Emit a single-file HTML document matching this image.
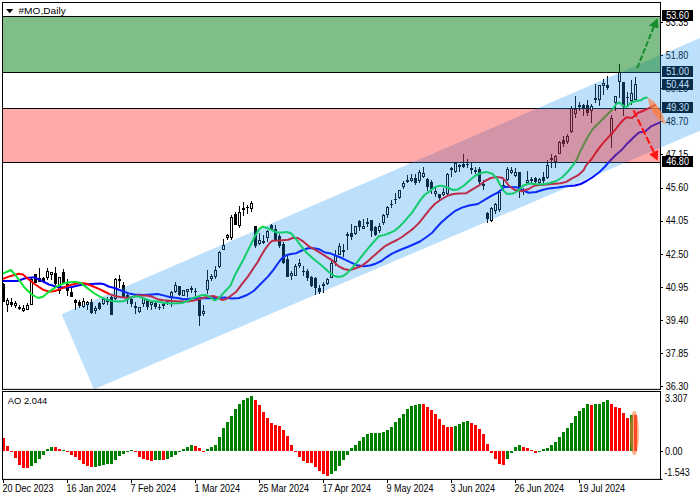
<!DOCTYPE html>
<html><head><meta charset="utf-8"><title>#MO,Daily</title>
<style>
html,body{margin:0;padding:0;background:#fff;}
body{width:700px;height:500px;overflow:hidden;}
svg{display:block;}
text{font-family:"Liberation Sans",sans-serif;fill:#000;}
</style></head><body>
<svg width="700" height="500" viewBox="0 0 700 500">
<rect x="0" y="0" width="700" height="500" fill="#fff"/>
<g shape-rendering="crispEdges">
<rect x="3" y="16" width="657" height="1" fill="#000"/>
<rect x="3" y="72" width="657" height="1" fill="#000"/>
<rect x="3" y="108" width="657" height="1" fill="#000"/>
<rect x="3" y="162" width="657" height="1" fill="#000"/>
</g>
<g shape-rendering="crispEdges">
<rect x="3" y="283" width="1" height="19" fill="#000"/><rect x="2" y="284" width="3" height="18" fill="#000"/>
<rect x="7" y="298" width="1" height="14" fill="#000"/><rect x="6" y="300" width="3" height="5" fill="#000"/><rect x="7" y="301" width="1" height="3" fill="#fff"/>
<rect x="11" y="298" width="1" height="9" fill="#000"/><rect x="10" y="302" width="3" height="3" fill="#000"/>
<rect x="15" y="301" width="1" height="7" fill="#000"/><rect x="14" y="303" width="3" height="3" fill="#000"/><rect x="15" y="304" width="1" height="1" fill="#fff"/>
<rect x="19" y="305" width="1" height="5" fill="#000"/><rect x="18" y="307" width="3" height="2" fill="#000"/>
<rect x="23" y="305" width="1" height="7" fill="#000"/><rect x="22" y="308" width="3" height="3" fill="#000"/><rect x="23" y="309" width="1" height="1" fill="#fff"/>
<rect x="27" y="303" width="1" height="7" fill="#000"/><rect x="26" y="305" width="3" height="5" fill="#000"/><rect x="27" y="306" width="1" height="3" fill="#fff"/>
<rect x="31" y="277" width="1" height="28" fill="#000"/><rect x="30" y="279" width="3" height="26" fill="#000"/><rect x="31" y="280" width="1" height="24" fill="#fff"/>
<rect x="35" y="274" width="1" height="9" fill="#000"/><rect x="34" y="274" width="3" height="9" fill="#000"/>
<rect x="39" y="268" width="1" height="14" fill="#000"/><rect x="38" y="278" width="3" height="4" fill="#000"/>
<rect x="43" y="277" width="1" height="6" fill="#000"/><rect x="42" y="278" width="3" height="4" fill="#000"/>
<rect x="47" y="268" width="1" height="12" fill="#000"/><rect x="46" y="271" width="3" height="7" fill="#000"/><rect x="47" y="272" width="1" height="5" fill="#fff"/>
<rect x="51" y="272" width="1" height="8" fill="#000"/><rect x="50" y="272" width="3" height="3" fill="#000"/><rect x="51" y="273" width="1" height="1" fill="#fff"/>
<rect x="55" y="267" width="1" height="18" fill="#000"/><rect x="54" y="273" width="3" height="11" fill="#000"/>
<rect x="59" y="277" width="1" height="17" fill="#000"/><rect x="58" y="277" width="3" height="14" fill="#000"/><rect x="59" y="278" width="1" height="12" fill="#fff"/>
<rect x="63" y="269" width="1" height="15" fill="#000"/><rect x="62" y="272" width="3" height="11" fill="#000"/>
<rect x="67" y="279" width="1" height="17" fill="#000"/><rect x="66" y="284" width="3" height="7" fill="#000"/>
<rect x="71" y="288" width="1" height="9" fill="#000"/><rect x="70" y="292" width="3" height="5" fill="#000"/>
<rect x="75" y="299" width="1" height="11" fill="#000"/><rect x="74" y="300" width="3" height="3" fill="#000"/>
<rect x="79" y="300" width="1" height="8" fill="#000"/><rect x="78" y="302" width="3" height="4" fill="#000"/>
<rect x="83" y="298" width="1" height="10" fill="#000"/><rect x="82" y="301" width="3" height="6" fill="#000"/><rect x="83" y="302" width="1" height="4" fill="#fff"/>
<rect x="87" y="301" width="1" height="9" fill="#000"/><rect x="86" y="302" width="3" height="3" fill="#000"/><rect x="87" y="303" width="1" height="1" fill="#fff"/>
<rect x="91" y="299" width="1" height="15" fill="#000"/><rect x="90" y="302" width="3" height="11" fill="#000"/>
<rect x="95" y="306" width="1" height="8" fill="#000"/><rect x="94" y="308" width="3" height="3" fill="#000"/><rect x="95" y="309" width="1" height="1" fill="#fff"/>
<rect x="99" y="302" width="1" height="8" fill="#000"/><rect x="98" y="303" width="3" height="6" fill="#000"/>
<rect x="103" y="298" width="1" height="7" fill="#000"/><rect x="102" y="299" width="3" height="5" fill="#000"/><rect x="103" y="300" width="1" height="3" fill="#fff"/>
<rect x="107" y="297" width="1" height="8" fill="#000"/><rect x="106" y="300" width="3" height="2" fill="#000"/>
<rect x="111" y="296" width="1" height="19" fill="#000"/><rect x="110" y="297" width="3" height="18" fill="#000"/>
<rect x="115" y="278" width="1" height="22" fill="#000"/><rect x="114" y="279" width="3" height="20" fill="#000"/><rect x="115" y="280" width="1" height="18" fill="#fff"/>
<rect x="119" y="275" width="1" height="13" fill="#000"/><rect x="118" y="279" width="3" height="2" fill="#000"/>
<rect x="123" y="282" width="1" height="15" fill="#000"/><rect x="122" y="285" width="3" height="12" fill="#000"/>
<rect x="127" y="293" width="1" height="11" fill="#000"/><rect x="126" y="295" width="3" height="5" fill="#000"/>
<rect x="131" y="298" width="1" height="9" fill="#000"/><rect x="130" y="299" width="3" height="5" fill="#000"/>
<rect x="135" y="302" width="1" height="12" fill="#000"/><rect x="134" y="306" width="3" height="2" fill="#000"/>
<rect x="139" y="307" width="1" height="6" fill="#000"/><rect x="138" y="307" width="3" height="5" fill="#000"/><rect x="139" y="308" width="1" height="3" fill="#fff"/>
<rect x="143" y="298" width="1" height="9" fill="#000"/><rect x="142" y="298" width="3" height="6" fill="#000"/><rect x="143" y="299" width="1" height="4" fill="#fff"/>
<rect x="147" y="300" width="1" height="10" fill="#000"/><rect x="146" y="300" width="3" height="7" fill="#000"/>
<rect x="151" y="301" width="1" height="9" fill="#000"/><rect x="150" y="302" width="3" height="3" fill="#000"/><rect x="151" y="303" width="1" height="1" fill="#fff"/>
<rect x="155" y="302" width="1" height="7" fill="#000"/><rect x="154" y="303" width="3" height="4" fill="#000"/>
<rect x="159" y="304" width="1" height="6" fill="#000"/><rect x="158" y="307" width="3" height="1" fill="#000"/>
<rect x="163" y="303" width="1" height="6" fill="#000"/><rect x="162" y="304" width="3" height="2" fill="#000"/>
<rect x="167" y="300" width="1" height="5" fill="#000"/><rect x="166" y="301" width="3" height="1" fill="#000"/>
<rect x="171" y="291" width="1" height="16" fill="#000"/><rect x="170" y="292" width="3" height="5" fill="#000"/><rect x="171" y="293" width="1" height="3" fill="#fff"/>
<rect x="175" y="282" width="1" height="11" fill="#000"/><rect x="174" y="285" width="3" height="7" fill="#000"/><rect x="175" y="286" width="1" height="5" fill="#fff"/>
<rect x="179" y="286" width="1" height="10" fill="#000"/><rect x="178" y="286" width="3" height="9" fill="#000"/>
<rect x="183" y="290" width="1" height="6" fill="#000"/><rect x="182" y="290" width="3" height="6" fill="#000"/><rect x="183" y="291" width="1" height="4" fill="#fff"/>
<rect x="187" y="289" width="1" height="8" fill="#000"/><rect x="186" y="289" width="3" height="3" fill="#000"/><rect x="187" y="290" width="1" height="1" fill="#fff"/>
<rect x="191" y="286" width="1" height="7" fill="#000"/><rect x="190" y="288" width="3" height="2" fill="#000"/>
<rect x="195" y="288" width="1" height="8" fill="#000"/><rect x="194" y="291" width="3" height="1" fill="#000"/>
<rect x="199" y="298" width="1" height="28" fill="#000"/><rect x="198" y="300" width="3" height="16" fill="#000"/>
<rect x="203" y="305" width="1" height="11" fill="#000"/><rect x="202" y="311" width="3" height="3" fill="#000"/><rect x="203" y="312" width="1" height="1" fill="#fff"/>
<rect x="207" y="270" width="1" height="24" fill="#000"/><rect x="206" y="280" width="3" height="10" fill="#000"/><rect x="207" y="281" width="1" height="8" fill="#fff"/>
<rect x="211" y="274" width="1" height="7" fill="#000"/><rect x="210" y="276" width="3" height="3" fill="#000"/><rect x="211" y="277" width="1" height="1" fill="#fff"/>
<rect x="215" y="266" width="1" height="13" fill="#000"/><rect x="214" y="270" width="3" height="7" fill="#000"/><rect x="215" y="271" width="1" height="5" fill="#fff"/>
<rect x="219" y="251" width="1" height="17" fill="#000"/><rect x="218" y="252" width="3" height="15" fill="#000"/><rect x="219" y="253" width="1" height="13" fill="#fff"/>
<rect x="223" y="239" width="1" height="11" fill="#000"/><rect x="222" y="245" width="3" height="5" fill="#000"/><rect x="223" y="246" width="1" height="3" fill="#fff"/>
<rect x="227" y="234" width="1" height="6" fill="#000"/><rect x="226" y="235" width="3" height="3" fill="#000"/><rect x="227" y="236" width="1" height="1" fill="#fff"/>
<rect x="231" y="215" width="1" height="25" fill="#000"/><rect x="230" y="217" width="3" height="21" fill="#000"/><rect x="231" y="218" width="1" height="19" fill="#fff"/>
<rect x="235" y="212" width="1" height="13" fill="#000"/><rect x="234" y="214" width="3" height="11" fill="#000"/>
<rect x="239" y="206" width="1" height="22" fill="#000"/><rect x="238" y="212" width="3" height="14" fill="#000"/><rect x="239" y="213" width="1" height="12" fill="#fff"/>
<rect x="243" y="202" width="1" height="14" fill="#000"/><rect x="242" y="208" width="3" height="2" fill="#000"/>
<rect x="247" y="205" width="1" height="9" fill="#000"/><rect x="246" y="207" width="3" height="1" fill="#000"/>
<rect x="251" y="201" width="1" height="11" fill="#000"/><rect x="250" y="203" width="3" height="6" fill="#000"/><rect x="251" y="204" width="1" height="4" fill="#fff"/>
<rect x="255" y="226" width="1" height="22" fill="#000"/><rect x="254" y="226" width="3" height="20" fill="#000"/>
<rect x="259" y="233" width="1" height="12" fill="#000"/><rect x="258" y="240" width="3" height="4" fill="#000"/><rect x="259" y="241" width="1" height="2" fill="#fff"/>
<rect x="263" y="235" width="1" height="9" fill="#000"/><rect x="262" y="241" width="3" height="2" fill="#000"/>
<rect x="267" y="230" width="1" height="12" fill="#000"/><rect x="266" y="231" width="3" height="7" fill="#000"/><rect x="267" y="232" width="1" height="5" fill="#fff"/>
<rect x="271" y="224" width="1" height="6" fill="#000"/><rect x="270" y="225" width="3" height="5" fill="#000"/>
<rect x="275" y="225" width="1" height="15" fill="#000"/><rect x="274" y="229" width="3" height="11" fill="#000"/>
<rect x="279" y="234" width="1" height="14" fill="#000"/><rect x="278" y="236" width="3" height="10" fill="#000"/>
<rect x="283" y="242" width="1" height="22" fill="#000"/><rect x="282" y="244" width="3" height="19" fill="#000"/>
<rect x="287" y="256" width="1" height="21" fill="#000"/><rect x="286" y="259" width="3" height="18" fill="#000"/>
<rect x="291" y="271" width="1" height="9" fill="#000"/><rect x="290" y="273" width="3" height="3" fill="#000"/><rect x="291" y="274" width="1" height="1" fill="#fff"/>
<rect x="295" y="264" width="1" height="12" fill="#000"/><rect x="294" y="266" width="3" height="10" fill="#000"/><rect x="295" y="267" width="1" height="8" fill="#fff"/>
<rect x="299" y="259" width="1" height="9" fill="#000"/><rect x="298" y="263" width="3" height="3" fill="#000"/><rect x="299" y="264" width="1" height="1" fill="#fff"/>
<rect x="303" y="266" width="1" height="10" fill="#000"/><rect x="302" y="271" width="3" height="1" fill="#000"/>
<rect x="307" y="269" width="1" height="12" fill="#000"/><rect x="306" y="271" width="3" height="7" fill="#000"/>
<rect x="311" y="276" width="1" height="11" fill="#000"/><rect x="310" y="277" width="3" height="9" fill="#000"/>
<rect x="315" y="277" width="1" height="18" fill="#000"/><rect x="314" y="278" width="3" height="10" fill="#000"/>
<rect x="319" y="285" width="1" height="9" fill="#000"/><rect x="318" y="288" width="3" height="4" fill="#000"/>
<rect x="323" y="282" width="1" height="11" fill="#000"/><rect x="322" y="284" width="3" height="2" fill="#000"/>
<rect x="327" y="278" width="1" height="7" fill="#000"/><rect x="326" y="279" width="3" height="5" fill="#000"/><rect x="327" y="280" width="1" height="3" fill="#fff"/>
<rect x="331" y="261" width="1" height="17" fill="#000"/><rect x="330" y="263" width="3" height="15" fill="#000"/><rect x="331" y="264" width="1" height="13" fill="#fff"/>
<rect x="335" y="250" width="1" height="16" fill="#000"/><rect x="334" y="255" width="3" height="7" fill="#000"/><rect x="335" y="256" width="1" height="5" fill="#fff"/>
<rect x="339" y="243" width="1" height="12" fill="#000"/><rect x="338" y="246" width="3" height="9" fill="#000"/><rect x="339" y="247" width="1" height="7" fill="#fff"/>
<rect x="343" y="244" width="1" height="13" fill="#000"/><rect x="342" y="250" width="3" height="2" fill="#000"/>
<rect x="347" y="232" width="1" height="18" fill="#000"/><rect x="346" y="234" width="3" height="2" fill="#000"/>
<rect x="351" y="224" width="1" height="16" fill="#000"/><rect x="350" y="233" width="3" height="4" fill="#000"/>
<rect x="355" y="226" width="1" height="9" fill="#000"/><rect x="354" y="226" width="3" height="8" fill="#000"/><rect x="355" y="227" width="1" height="6" fill="#fff"/>
<rect x="359" y="220" width="1" height="11" fill="#000"/><rect x="358" y="221" width="3" height="6" fill="#000"/>
<rect x="363" y="219" width="1" height="10" fill="#000"/><rect x="362" y="226" width="3" height="3" fill="#000"/><rect x="363" y="227" width="1" height="1" fill="#fff"/>
<rect x="367" y="218" width="1" height="9" fill="#000"/><rect x="366" y="222" width="3" height="2" fill="#000"/>
<rect x="371" y="220" width="1" height="17" fill="#000"/><rect x="370" y="220" width="3" height="11" fill="#000"/>
<rect x="375" y="226" width="1" height="10" fill="#000"/><rect x="374" y="227" width="3" height="8" fill="#000"/>
<rect x="379" y="223" width="1" height="10" fill="#000"/><rect x="378" y="226" width="3" height="5" fill="#000"/><rect x="379" y="227" width="1" height="3" fill="#fff"/>
<rect x="383" y="214" width="1" height="11" fill="#000"/><rect x="382" y="215" width="3" height="8" fill="#000"/><rect x="383" y="216" width="1" height="6" fill="#fff"/>
<rect x="387" y="206" width="1" height="12" fill="#000"/><rect x="386" y="207" width="3" height="8" fill="#000"/><rect x="387" y="208" width="1" height="6" fill="#fff"/>
<rect x="391" y="200" width="1" height="8" fill="#000"/><rect x="390" y="204" width="3" height="1" fill="#000"/>
<rect x="395" y="193" width="1" height="11" fill="#000"/><rect x="394" y="199" width="3" height="1" fill="#000"/>
<rect x="399" y="190" width="1" height="9" fill="#000"/><rect x="398" y="190" width="3" height="8" fill="#000"/><rect x="399" y="191" width="1" height="6" fill="#fff"/>
<rect x="403" y="181" width="1" height="8" fill="#000"/><rect x="402" y="183" width="3" height="4" fill="#000"/><rect x="403" y="184" width="1" height="2" fill="#fff"/>
<rect x="407" y="175" width="1" height="8" fill="#000"/><rect x="406" y="180" width="3" height="2" fill="#000"/>
<rect x="411" y="174" width="1" height="8" fill="#000"/><rect x="410" y="178" width="3" height="3" fill="#000"/><rect x="411" y="179" width="1" height="1" fill="#fff"/>
<rect x="415" y="174" width="1" height="11" fill="#000"/><rect x="414" y="178" width="3" height="5" fill="#000"/>
<rect x="419" y="170" width="1" height="13" fill="#000"/><rect x="418" y="172" width="3" height="9" fill="#000"/><rect x="419" y="173" width="1" height="7" fill="#fff"/>
<rect x="423" y="167" width="1" height="11" fill="#000"/><rect x="422" y="173" width="3" height="4" fill="#000"/><rect x="423" y="174" width="1" height="2" fill="#fff"/>
<rect x="427" y="178" width="1" height="13" fill="#000"/><rect x="426" y="179" width="3" height="8" fill="#000"/>
<rect x="431" y="180" width="1" height="14" fill="#000"/><rect x="430" y="182" width="3" height="7" fill="#000"/>
<rect x="435" y="188" width="1" height="9" fill="#000"/><rect x="434" y="191" width="3" height="3" fill="#000"/><rect x="435" y="192" width="1" height="1" fill="#fff"/>
<rect x="439" y="194" width="1" height="6" fill="#000"/><rect x="438" y="194" width="3" height="4" fill="#000"/>
<rect x="443" y="188" width="1" height="8" fill="#000"/><rect x="442" y="192" width="3" height="3" fill="#000"/><rect x="443" y="193" width="1" height="1" fill="#fff"/>
<rect x="447" y="173" width="1" height="22" fill="#000"/><rect x="446" y="174" width="3" height="20" fill="#000"/><rect x="447" y="175" width="1" height="18" fill="#fff"/>
<rect x="451" y="167" width="1" height="10" fill="#000"/><rect x="450" y="168" width="3" height="2" fill="#000"/>
<rect x="455" y="162" width="1" height="11" fill="#000"/><rect x="454" y="163" width="3" height="9" fill="#000"/><rect x="455" y="164" width="1" height="7" fill="#fff"/>
<rect x="459" y="164" width="1" height="8" fill="#000"/><rect x="458" y="165" width="3" height="2" fill="#000"/>
<rect x="463" y="154" width="1" height="14" fill="#000"/><rect x="462" y="164" width="3" height="3" fill="#000"/>
<rect x="467" y="159" width="1" height="9" fill="#000"/><rect x="466" y="164" width="3" height="1" fill="#000"/>
<rect x="471" y="163" width="1" height="11" fill="#000"/><rect x="470" y="168" width="3" height="2" fill="#000"/>
<rect x="475" y="167" width="1" height="7" fill="#000"/><rect x="474" y="170" width="3" height="2" fill="#000"/>
<rect x="479" y="167" width="1" height="17" fill="#000"/><rect x="478" y="169" width="3" height="13" fill="#000"/>
<rect x="483" y="180" width="1" height="10" fill="#000"/><rect x="482" y="184" width="3" height="2" fill="#000"/>
<rect x="487" y="212" width="1" height="11" fill="#000"/><rect x="486" y="213" width="3" height="6" fill="#000"/>
<rect x="491" y="207" width="1" height="15" fill="#000"/><rect x="490" y="208" width="3" height="13" fill="#000"/><rect x="491" y="209" width="1" height="11" fill="#fff"/>
<rect x="495" y="203" width="1" height="11" fill="#000"/><rect x="494" y="204" width="3" height="7" fill="#000"/><rect x="495" y="205" width="1" height="5" fill="#fff"/>
<rect x="499" y="190" width="1" height="22" fill="#000"/><rect x="498" y="192" width="3" height="18" fill="#000"/><rect x="499" y="193" width="1" height="16" fill="#fff"/>
<rect x="503" y="180" width="1" height="10" fill="#000"/><rect x="502" y="185" width="3" height="3" fill="#000"/><rect x="503" y="186" width="1" height="1" fill="#fff"/>
<rect x="507" y="167" width="1" height="14" fill="#000"/><rect x="506" y="169" width="3" height="11" fill="#000"/><rect x="507" y="170" width="1" height="9" fill="#fff"/>
<rect x="511" y="167" width="1" height="7" fill="#000"/><rect x="510" y="170" width="3" height="3" fill="#000"/><rect x="511" y="171" width="1" height="1" fill="#fff"/>
<rect x="515" y="168" width="1" height="9" fill="#000"/><rect x="514" y="172" width="3" height="4" fill="#000"/><rect x="515" y="173" width="1" height="2" fill="#fff"/>
<rect x="519" y="172" width="1" height="26" fill="#000"/><rect x="518" y="172" width="3" height="18" fill="#000"/>
<rect x="523" y="188" width="1" height="7" fill="#000"/><rect x="522" y="190" width="3" height="2" fill="#000"/>
<rect x="527" y="171" width="1" height="12" fill="#000"/><rect x="526" y="180" width="3" height="3" fill="#000"/><rect x="527" y="181" width="1" height="1" fill="#fff"/>
<rect x="531" y="177" width="1" height="6" fill="#000"/><rect x="530" y="179" width="3" height="2" fill="#000"/>
<rect x="535" y="177" width="1" height="7" fill="#000"/><rect x="534" y="178" width="3" height="4" fill="#000"/>
<rect x="539" y="178" width="1" height="6" fill="#000"/><rect x="538" y="179" width="3" height="4" fill="#000"/><rect x="539" y="180" width="1" height="2" fill="#fff"/>
<rect x="543" y="172" width="1" height="11" fill="#000"/><rect x="542" y="177" width="3" height="4" fill="#000"/>
<rect x="547" y="160" width="1" height="19" fill="#000"/><rect x="546" y="165" width="3" height="13" fill="#000"/><rect x="547" y="166" width="1" height="11" fill="#fff"/>
<rect x="551" y="154" width="1" height="14" fill="#000"/><rect x="550" y="158" width="3" height="2" fill="#000"/>
<rect x="555" y="155" width="1" height="13" fill="#000"/><rect x="554" y="156" width="3" height="6" fill="#000"/><rect x="555" y="157" width="1" height="4" fill="#fff"/>
<rect x="559" y="141" width="1" height="13" fill="#000"/><rect x="558" y="142" width="3" height="12" fill="#000"/><rect x="559" y="143" width="1" height="10" fill="#fff"/>
<rect x="563" y="136" width="1" height="11" fill="#000"/><rect x="562" y="140" width="3" height="4" fill="#000"/>
<rect x="567" y="134" width="1" height="10" fill="#000"/><rect x="566" y="136" width="3" height="6" fill="#000"/><rect x="567" y="137" width="1" height="4" fill="#fff"/>
<rect x="571" y="106" width="1" height="27" fill="#000"/><rect x="570" y="108" width="3" height="24" fill="#000"/><rect x="571" y="109" width="1" height="22" fill="#fff"/>
<rect x="575" y="96" width="1" height="22" fill="#000"/><rect x="574" y="109" width="3" height="5" fill="#000"/><rect x="575" y="110" width="1" height="3" fill="#fff"/>
<rect x="579" y="102" width="1" height="9" fill="#000"/><rect x="578" y="105" width="3" height="2" fill="#000"/>
<rect x="583" y="104" width="1" height="12" fill="#000"/><rect x="582" y="105" width="3" height="3" fill="#000"/>
<rect x="587" y="100" width="1" height="16" fill="#000"/><rect x="586" y="105" width="3" height="8" fill="#000"/>
<rect x="591" y="104" width="1" height="19" fill="#000"/><rect x="590" y="106" width="3" height="5" fill="#000"/><rect x="591" y="107" width="1" height="3" fill="#fff"/>
<rect x="595" y="84" width="1" height="19" fill="#000"/><rect x="594" y="98" width="3" height="2" fill="#000"/>
<rect x="599" y="85" width="1" height="21" fill="#000"/><rect x="598" y="85" width="3" height="15" fill="#000"/><rect x="599" y="86" width="1" height="13" fill="#fff"/>
<rect x="603" y="79" width="1" height="16" fill="#000"/><rect x="602" y="83" width="3" height="3" fill="#000"/><rect x="603" y="84" width="1" height="1" fill="#fff"/>
<rect x="607" y="76" width="1" height="14" fill="#000"/><rect x="606" y="85" width="3" height="3" fill="#000"/>
<rect x="611" y="115" width="1" height="33" fill="#000"/><rect x="610" y="118" width="3" height="17" fill="#000"/><rect x="611" y="119" width="1" height="15" fill="#fff"/>
<rect x="615" y="96" width="1" height="15" fill="#000"/><rect x="614" y="96" width="3" height="7" fill="#000"/><rect x="615" y="97" width="1" height="5" fill="#fff"/>
<rect x="619" y="64" width="1" height="34" fill="#000"/><rect x="618" y="72" width="3" height="10" fill="#000"/><rect x="619" y="73" width="1" height="8" fill="#fff"/>
<rect x="623" y="82" width="1" height="34" fill="#000"/><rect x="622" y="82" width="3" height="25" fill="#000"/>
<rect x="627" y="92" width="1" height="14" fill="#000"/><rect x="626" y="97" width="3" height="1" fill="#000"/>
<rect x="631" y="80" width="1" height="25" fill="#000"/><rect x="630" y="93" width="3" height="8" fill="#000"/><rect x="631" y="94" width="1" height="6" fill="#fff"/>
<rect x="635" y="77" width="1" height="23" fill="#000"/><rect x="634" y="84" width="3" height="16" fill="#000"/><rect x="635" y="85" width="1" height="14" fill="#fff"/>
</g>
<clipPath id="cm"><rect x="3" y="3" width="657" height="386"/></clipPath>
<g clip-path="url(#cm)">
<polyline points="3.0,281.0 17.3,281.0 26.0,278.0 34.6,277.3 40.3,280.2 49.0,284.5 57.6,287.0 64.8,287.4 72.0,287.0 77.8,285.5 83.6,284.5 92.0,284.0 100.0,283.6 104.3,284.3 108.6,286.5 114.4,288.0 121.6,290.8 128.8,293.4 134.6,294.4 143.2,294.9 151.9,294.4 157.6,294.0 163.4,295.4 170.6,297.3 177.8,298.0 183.6,299.2 189.3,298.7 195.0,298.2 210.4,298.2 224.8,297.5 232.0,298.5 239.2,298.0 246.4,295.3 253.6,291.0 260.8,283.8 268.0,276.6 273.8,269.4 278.9,262.0 282.5,257.7 286.8,255.0 291.0,254.0 296.3,253.2 300.6,251.0 307.9,248.2 313.6,248.2 319.4,249.3 325.0,252.5 330.9,253.6 336.7,256.0 342.4,258.3 349.6,261.9 356.8,265.2 364.0,266.2 369.8,265.5 375.6,263.7 381.3,261.0 387.0,256.8 392.0,253.6 400.0,250.0 410.0,246.0 420.0,241.5 426.5,237.0 432.2,232.7 438.0,226.0 441.8,222.0 447.5,217.0 454.7,211.2 462.0,207.6 469.0,205.5 477.8,204.0 485.0,199.7 492.2,195.4 498.0,192.5 501.5,189.5 504.3,186.9 511.5,186.9 518.7,187.6 523.0,190.5 528.8,192.7 536.0,192.0 543.2,189.8 549.0,188.4 557.6,187.6 566.3,186.2 575.0,185.5 580.7,184.0 586.5,181.0 592.2,177.5 599.5,172.0 604.6,167.0 610.3,160.5 616.0,154.8 621.9,149.7 627.6,143.2 633.4,137.5 639.0,132.4 645.0,131.4 650.7,126.7 656.5,123.8 660.0,122.3" fill="none" stroke="#0000ff" stroke-width="2" stroke-linejoin="round" stroke-linecap="round"/>
<polyline points="3.0,278.8 8.6,276.6 14.4,275.0 18.7,273.7 23.0,274.5 28.8,279.5 36.0,285.0 43.0,289.6 49.0,291.7 54.8,291.0 60.5,288.9 67.7,286.0 75.0,283.8 80.7,283.0 86.5,283.8 92.0,286.0 100.0,289.4 104.3,291.5 110.0,294.4 115.9,296.3 121.6,297.3 127.4,298.0 131.7,297.3 137.5,295.4 146.0,295.4 151.9,296.6 157.6,299.2 163.4,300.2 172.0,300.9 180.7,301.6 187.9,301.6 193.7,300.6 198.0,299.5 201.8,298.2 207.5,296.8 213.3,296.0 217.6,297.5 221.9,300.0 226.3,299.0 230.6,296.0 236.3,291.7 242.1,283.8 247.9,276.6 253.6,268.0 258.0,261.5 260.8,256.3 265.2,249.0 269.5,243.3 272.4,240.7 279.6,240.4 288.2,239.7 292.5,238.0 297.8,238.0 303.5,241.7 309.3,246.7 315.0,249.6 320.8,253.2 326.6,256.8 332.3,260.4 338.0,265.8 343.9,269.0 349.6,270.2 355.4,268.3 361.2,266.2 367.0,261.9 372.7,256.8 378.5,251.8 384.2,246.7 392.0,242.4 397.0,240.0 402.0,237.0 407.7,232.7 413.5,228.4 419.3,222.6 425.0,215.4 430.8,208.2 435.0,203.8 441.8,199.0 447.5,195.8 453.3,194.0 459.0,193.5 466.3,193.2 472.0,189.6 479.2,185.3 485.0,181.0 490.8,178.0 496.5,177.0 502.3,177.8 505.5,181.0 508.6,185.5 514.4,189.8 521.6,191.2 528.8,189.0 534.6,185.5 543.2,184.8 551.9,184.0 560.5,183.3 566.3,181.9 572.0,178.3 577.8,175.4 583.6,170.3 585.9,165.6 591.6,159.0 597.4,150.4 603.0,143.2 608.9,136.7 614.7,130.3 620.4,123.0 626.2,117.3 632.0,118.0 637.7,113.0 643.5,110.8 649.3,107.9 655.0,105.0" fill="none" stroke="#ff0000" stroke-width="2" stroke-linejoin="round" stroke-linecap="round"/>
<polyline points="3.0,273.7 10.8,270.0 14.4,273.7 18.7,279.5 23.8,286.7 31.0,294.0 38.0,298.0 43.0,296.8 49.0,291.7 57.6,286.0 64.8,283.0 75.0,281.7 80.7,283.0 86.5,287.4 93.7,293.0 100.0,296.6 104.3,298.7 111.5,300.9 118.7,301.6 124.5,300.9 128.8,298.7 133.0,296.6 138.9,296.6 144.7,298.7 150.4,300.9 157.6,301.6 164.8,303.0 172.0,303.5 182.0,303.0 187.9,300.9 193.7,297.7 198.0,296.5 201.8,295.3 206.0,295.0 210.4,297.5 214.7,300.4 219.0,298.2 224.8,291.7 230.6,285.3 234.9,275.2 239.2,267.2 243.6,259.3 246.4,253.4 250.8,244.8 255.0,236.0 259.4,228.9 262.3,226.7 266.6,227.8 271.0,229.6 276.7,232.5 282.5,232.5 286.8,232.0 291.0,233.2 296.3,239.5 300.6,245.3 306.4,252.5 313.6,259.0 320.8,264.7 328.0,271.2 333.8,275.8 338.0,277.0 342.4,276.3 346.8,273.4 352.5,267.6 356.8,262.6 361.2,256.8 367.0,249.6 372.7,243.0 378.9,236.3 384.7,234.9 390.4,232.7 394.8,230.6 399.0,227.0 403.4,222.6 407.7,217.6 412.0,212.6 416.4,206.0 420.7,199.6 425.0,194.5 429.3,191.7 433.7,188.0 436.5,186.6 440.0,185.7 441.8,185.7 447.5,187.5 453.3,190.0 457.6,189.6 463.4,186.0 469.0,181.0 474.9,176.0 480.7,173.0 486.4,171.9 492.2,173.8 496.5,178.0 500.8,186.0 503.5,190.8 507.2,194.0 513.0,193.6 518.5,190.5 523.0,185.8 528.8,183.5 534.6,184.0 541.8,184.5 549.0,183.3 556.2,181.0 562.0,177.5 567.7,171.8 573.5,164.6 577.0,159.0 580.0,151.9 584.4,143.2 588.7,135.3 593.0,128.8 598.8,123.0 604.6,117.3 610.3,111.5 613.3,108.5 616.2,104.0 619.0,102.4 622.0,104.8 624.8,107.0 627.7,106.3 630.6,102.7 635.0,101.2 640.7,100.3 644.0,98.2 646.8,97.5" fill="none" stroke="#0ce432" stroke-width="2" stroke-linejoin="round" stroke-linecap="round"/>
</g>
<g shape-rendering="crispEdges">
<rect x="2" y="438" width="3" height="13" fill="#ff0000"/><rect x="6" y="446" width="3" height="5" fill="#ff0000"/><rect x="10" y="451" width="3" height="1" fill="#ff0000"/><rect x="14" y="451" width="3" height="7" fill="#ff0000"/><rect x="18" y="451" width="3" height="14" fill="#ff0000"/><rect x="22" y="451" width="3" height="17" fill="#ff0000"/><rect x="26" y="451" width="3" height="17" fill="#ff0000"/><rect x="30" y="451" width="3" height="15" fill="#008000"/><rect x="34" y="451" width="3" height="12" fill="#008000"/><rect x="38" y="451" width="3" height="8" fill="#008000"/><rect x="42" y="451" width="3" height="4" fill="#008000"/><rect x="46" y="449" width="3" height="2" fill="#008000"/><rect x="50" y="447" width="3" height="4" fill="#008000"/><rect x="54" y="447" width="3" height="4" fill="#ff0000"/><rect x="58" y="449" width="3" height="2" fill="#ff0000"/><rect x="62" y="450" width="3" height="1" fill="#008000"/><rect x="66" y="451" width="3" height="1" fill="#ff0000"/><rect x="70" y="451" width="3" height="4" fill="#ff0000"/><rect x="74" y="451" width="3" height="6" fill="#ff0000"/><rect x="78" y="451" width="3" height="9" fill="#ff0000"/><rect x="82" y="451" width="3" height="13" fill="#ff0000"/><rect x="86" y="451" width="3" height="15" fill="#ff0000"/><rect x="90" y="451" width="3" height="16" fill="#ff0000"/><rect x="94" y="451" width="3" height="16" fill="#008000"/><rect x="98" y="451" width="3" height="15" fill="#008000"/><rect x="102" y="451" width="3" height="14" fill="#008000"/><rect x="106" y="451" width="3" height="13" fill="#008000"/><rect x="110" y="451" width="3" height="13" fill="#008000"/><rect x="114" y="451" width="3" height="9" fill="#008000"/><rect x="118" y="451" width="3" height="5" fill="#008000"/><rect x="122" y="451" width="3" height="3" fill="#008000"/><rect x="126" y="451" width="3" height="1" fill="#008000"/><rect x="130" y="450" width="3" height="1" fill="#008000"/><rect x="134" y="451" width="3" height="1" fill="#ff0000"/><rect x="138" y="451" width="3" height="6" fill="#ff0000"/><rect x="142" y="451" width="3" height="8" fill="#ff0000"/><rect x="146" y="451" width="3" height="9" fill="#ff0000"/><rect x="150" y="451" width="3" height="10" fill="#ff0000"/><rect x="154" y="451" width="3" height="9" fill="#008000"/><rect x="158" y="451" width="3" height="9" fill="#008000"/><rect x="162" y="451" width="3" height="9" fill="#ff0000"/><rect x="166" y="451" width="3" height="8" fill="#008000"/><rect x="170" y="451" width="3" height="6" fill="#008000"/><rect x="174" y="451" width="3" height="4" fill="#008000"/><rect x="178" y="451" width="3" height="1" fill="#008000"/><rect x="182" y="449" width="3" height="2" fill="#008000"/><rect x="186" y="447" width="3" height="4" fill="#008000"/><rect x="190" y="445" width="3" height="6" fill="#008000"/><rect x="194" y="446" width="3" height="5" fill="#ff0000"/><rect x="198" y="448" width="3" height="3" fill="#ff0000"/><rect x="202" y="451" width="3" height="1" fill="#ff0000"/><rect x="206" y="449" width="3" height="2" fill="#008000"/><rect x="210" y="447" width="3" height="4" fill="#008000"/><rect x="214" y="445" width="3" height="6" fill="#008000"/><rect x="218" y="437" width="3" height="14" fill="#008000"/><rect x="222" y="428" width="3" height="23" fill="#008000"/><rect x="226" y="422" width="3" height="29" fill="#008000"/><rect x="230" y="416" width="3" height="35" fill="#008000"/><rect x="234" y="409" width="3" height="42" fill="#008000"/><rect x="238" y="404" width="3" height="47" fill="#008000"/><rect x="242" y="400" width="3" height="51" fill="#008000"/><rect x="246" y="398" width="3" height="53" fill="#008000"/><rect x="250" y="396" width="3" height="55" fill="#008000"/><rect x="254" y="400" width="3" height="51" fill="#ff0000"/><rect x="258" y="405" width="3" height="46" fill="#ff0000"/><rect x="262" y="412" width="3" height="39" fill="#ff0000"/><rect x="266" y="418" width="3" height="33" fill="#ff0000"/><rect x="270" y="423" width="3" height="28" fill="#ff0000"/><rect x="274" y="425" width="3" height="26" fill="#ff0000"/><rect x="278" y="426" width="3" height="25" fill="#ff0000"/><rect x="282" y="430" width="3" height="21" fill="#ff0000"/><rect x="286" y="436" width="3" height="15" fill="#ff0000"/><rect x="290" y="445" width="3" height="6" fill="#ff0000"/><rect x="294" y="451" width="3" height="1" fill="#ff0000"/><rect x="298" y="451" width="3" height="6" fill="#ff0000"/><rect x="302" y="451" width="3" height="10" fill="#ff0000"/><rect x="306" y="451" width="3" height="12" fill="#ff0000"/><rect x="310" y="451" width="3" height="12" fill="#ff0000"/><rect x="314" y="451" width="3" height="16" fill="#ff0000"/><rect x="318" y="451" width="3" height="20" fill="#ff0000"/><rect x="322" y="451" width="3" height="23" fill="#ff0000"/><rect x="326" y="451" width="3" height="25" fill="#ff0000"/><rect x="330" y="451" width="3" height="23" fill="#008000"/><rect x="334" y="451" width="3" height="20" fill="#008000"/><rect x="338" y="451" width="3" height="15" fill="#008000"/><rect x="342" y="451" width="3" height="9" fill="#008000"/><rect x="346" y="451" width="3" height="4" fill="#008000"/><rect x="350" y="448" width="3" height="3" fill="#008000"/><rect x="354" y="445" width="3" height="6" fill="#008000"/><rect x="358" y="441" width="3" height="10" fill="#008000"/><rect x="362" y="437" width="3" height="14" fill="#008000"/><rect x="366" y="434" width="3" height="17" fill="#008000"/><rect x="370" y="433" width="3" height="18" fill="#008000"/><rect x="374" y="433" width="3" height="18" fill="#008000"/><rect x="378" y="433" width="3" height="18" fill="#008000"/><rect x="382" y="432" width="3" height="19" fill="#008000"/><rect x="386" y="430" width="3" height="21" fill="#008000"/><rect x="390" y="427" width="3" height="24" fill="#008000"/><rect x="394" y="422" width="3" height="29" fill="#008000"/><rect x="398" y="418" width="3" height="33" fill="#008000"/><rect x="402" y="414" width="3" height="37" fill="#008000"/><rect x="406" y="409" width="3" height="42" fill="#008000"/><rect x="410" y="406" width="3" height="45" fill="#008000"/><rect x="414" y="405" width="3" height="46" fill="#008000"/><rect x="418" y="404" width="3" height="47" fill="#008000"/><rect x="422" y="404" width="3" height="47" fill="#ff0000"/><rect x="426" y="407" width="3" height="44" fill="#ff0000"/><rect x="430" y="410" width="3" height="41" fill="#ff0000"/><rect x="434" y="414" width="3" height="37" fill="#ff0000"/><rect x="438" y="419" width="3" height="32" fill="#ff0000"/><rect x="442" y="425" width="3" height="26" fill="#ff0000"/><rect x="446" y="427" width="3" height="24" fill="#ff0000"/><rect x="450" y="427" width="3" height="24" fill="#ff0000"/><rect x="454" y="426" width="3" height="25" fill="#008000"/><rect x="458" y="424" width="3" height="27" fill="#008000"/><rect x="462" y="422" width="3" height="29" fill="#008000"/><rect x="466" y="421" width="3" height="30" fill="#008000"/><rect x="470" y="423" width="3" height="28" fill="#ff0000"/><rect x="474" y="425" width="3" height="26" fill="#ff0000"/><rect x="478" y="429" width="3" height="22" fill="#ff0000"/><rect x="482" y="434" width="3" height="17" fill="#ff0000"/><rect x="486" y="444" width="3" height="7" fill="#ff0000"/><rect x="490" y="451" width="3" height="2" fill="#ff0000"/><rect x="494" y="451" width="3" height="8" fill="#ff0000"/><rect x="498" y="451" width="3" height="13" fill="#ff0000"/><rect x="502" y="451" width="3" height="14" fill="#ff0000"/><rect x="506" y="451" width="3" height="8" fill="#008000"/><rect x="510" y="451" width="3" height="2" fill="#008000"/><rect x="514" y="447" width="3" height="4" fill="#008000"/><rect x="518" y="445" width="3" height="6" fill="#008000"/><rect x="522" y="447" width="3" height="4" fill="#ff0000"/><rect x="526" y="448" width="3" height="3" fill="#ff0000"/><rect x="530" y="450" width="3" height="1" fill="#ff0000"/><rect x="534" y="451" width="3" height="2" fill="#ff0000"/><rect x="538" y="451" width="3" height="1" fill="#008000"/><rect x="542" y="449" width="3" height="2" fill="#008000"/><rect x="546" y="448" width="3" height="3" fill="#008000"/><rect x="550" y="445" width="3" height="6" fill="#008000"/><rect x="554" y="442" width="3" height="9" fill="#008000"/><rect x="558" y="437" width="3" height="14" fill="#008000"/><rect x="562" y="432" width="3" height="19" fill="#008000"/><rect x="566" y="428" width="3" height="23" fill="#008000"/><rect x="570" y="423" width="3" height="28" fill="#008000"/><rect x="574" y="416" width="3" height="35" fill="#008000"/><rect x="578" y="411" width="3" height="40" fill="#008000"/><rect x="582" y="408" width="3" height="43" fill="#008000"/><rect x="586" y="404" width="3" height="47" fill="#008000"/><rect x="590" y="405" width="3" height="46" fill="#ff0000"/><rect x="594" y="404" width="3" height="47" fill="#008000"/><rect x="598" y="404" width="3" height="47" fill="#008000"/><rect x="602" y="402" width="3" height="49" fill="#008000"/><rect x="606" y="400" width="3" height="51" fill="#008000"/><rect x="610" y="404" width="3" height="47" fill="#ff0000"/><rect x="614" y="407" width="3" height="44" fill="#ff0000"/><rect x="618" y="408" width="3" height="43" fill="#ff0000"/><rect x="622" y="413" width="3" height="38" fill="#ff0000"/><rect x="626" y="418" width="3" height="33" fill="#ff0000"/><rect x="630" y="415" width="3" height="36" fill="#008000"/><rect x="634" y="415" width="3" height="36" fill="#ff0000"/>
</g>
<g shape-rendering="crispEdges" fill="#000">
<rect x="2" y="2" width="659" height="1"/><rect x="2" y="2" width="1" height="388"/><rect x="660" y="2" width="1" height="388"/>
<rect x="2" y="392" width="1" height="88"/><rect x="660" y="392" width="1" height="88"/>
</g><g fill="#000">
<rect x="2" y="388.85" width="659" height="1.05"/><rect x="2" y="390.95" width="659" height="1.05"/><rect x="2" y="478.9" width="660.5" height="1.05"/>
</g><g shape-rendering="crispEdges" fill="#000">
<rect x="661" y="22" width="2" height="1"/><rect x="661" y="55" width="2" height="1"/><rect x="661" y="88" width="2" height="1"/><rect x="661" y="121" width="2" height="1"/><rect x="661" y="154" width="2" height="1"/><rect x="661" y="188" width="2" height="1"/><rect x="661" y="221" width="2" height="1"/><rect x="661" y="254" width="2" height="1"/><rect x="661" y="287" width="2" height="1"/><rect x="661" y="320" width="2" height="1"/><rect x="661" y="353" width="2" height="1"/><rect x="661" y="386" width="2" height="1"/><rect x="661" y="451" width="2" height="1"/><rect x="3" y="480" width="1" height="3"/><rect x="67" y="480" width="1" height="3"/><rect x="131" y="480" width="1" height="3"/><rect x="195" y="480" width="1" height="3"/><rect x="259" y="480" width="1" height="3"/><rect x="323" y="480" width="1" height="3"/><rect x="387" y="480" width="1" height="3"/><rect x="451" y="480" width="1" height="3"/><rect x="515" y="480" width="1" height="3"/><rect x="579" y="480" width="1" height="3"/>
</g>
<path d="M6 9 L13.4 9 L9.7 13.2 Z" fill="#000"/>
<text x="18.5" y="13.7" font-size="9.8" textLength="47.2" lengthAdjust="spacingAndGlyphs">#MO,Daily</text>
<text transform="translate(7.8,403.9) scale(0.955,1)" font-size="9.8">AO 2.044</text>
<text transform="translate(665.8,25.7) scale(0.893,1)" font-size="10.1">53.35</text><text transform="translate(665.8,58.8) scale(0.893,1)" font-size="10.1">51.80</text><text transform="translate(665.8,91.9) scale(0.893,1)" font-size="10.1">50.25</text><text transform="translate(665.8,125.1) scale(0.893,1)" font-size="10.1">48.70</text><text transform="translate(665.8,158.2) scale(0.893,1)" font-size="10.1">47.15</text><text transform="translate(665.8,191.3) scale(0.893,1)" font-size="10.1">45.60</text><text transform="translate(665.8,224.4) scale(0.893,1)" font-size="10.1">44.05</text><text transform="translate(665.8,257.6) scale(0.893,1)" font-size="10.1">42.50</text><text transform="translate(665.8,290.7) scale(0.893,1)" font-size="10.1">40.95</text><text transform="translate(665.8,323.8) scale(0.893,1)" font-size="10.1">39.40</text><text transform="translate(665.8,356.9) scale(0.893,1)" font-size="10.1">37.85</text><text transform="translate(665.8,390.1) scale(0.893,1)" font-size="10.1">36.30</text>
<text transform="translate(665.0,402.4) scale(0.893,1)" font-size="10.1">3.307</text><text transform="translate(665.0,455.1) scale(0.893,1)" font-size="10.1">0.00</text><text transform="translate(664.2,476.1) scale(0.893,1)" font-size="10.1">-1.543</text>
<text transform="translate(2.5,492.1) scale(0.893,1)" font-size="10.1">20 Dec 2023</text><text transform="translate(66.5,492.1) scale(0.893,1)" font-size="10.1">16 Jan 2024</text><text transform="translate(130.5,492.1) scale(0.893,1)" font-size="10.1">7 Feb 2024</text><text transform="translate(194.5,492.1) scale(0.893,1)" font-size="10.1">1 Mar 2024</text><text transform="translate(258.5,492.1) scale(0.893,1)" font-size="10.1">25 Mar 2024</text><text transform="translate(322.5,492.1) scale(0.893,1)" font-size="10.1">17 Apr 2024</text><text transform="translate(386.5,492.1) scale(0.893,1)" font-size="10.1">9 May 2024</text><text transform="translate(450.5,492.1) scale(0.893,1)" font-size="10.1">3 Jun 2024</text><text transform="translate(514.5,492.1) scale(0.893,1)" font-size="10.1">26 Jun 2024</text><text transform="translate(578.5,492.1) scale(0.893,1)" font-size="10.1">19 Jul 2024</text>
<rect x="662" y="10" width="31" height="11" fill="#000" shape-rendering="crispEdges"/><text transform="translate(666.2,19.0) scale(0.91,1)" font-size="10.0" style="fill:#fff">53.60</text>
<rect x="662" y="66" width="31" height="11" fill="#000" shape-rendering="crispEdges"/><text transform="translate(666.2,75.0) scale(0.91,1)" font-size="10.0" style="fill:#fff">51.00</text>
<rect x="662" y="79" width="31" height="11" fill="#000" shape-rendering="crispEdges"/><text transform="translate(666.2,88.0) scale(0.91,1)" font-size="10.0" style="fill:#fff">50.44</text>
<rect x="662" y="102" width="31" height="11" fill="#000" shape-rendering="crispEdges"/><text transform="translate(666.2,111.0) scale(0.91,1)" font-size="10.0" style="fill:#fff">49.30</text>
<rect x="662" y="156" width="31" height="11" fill="#000" shape-rendering="crispEdges"/><text transform="translate(666.2,165.0) scale(0.91,1)" font-size="10.0" style="fill:#fff">46.80</text>
<polygon points="61.6,314.3 700,38 700,130.8 94,389.3" fill="rgba(33,150,243,0.3)"/>
<rect x="3" y="17" width="657" height="55" fill="rgba(0,128,16,0.5)" shape-rendering="crispEdges"/>
<rect x="3" y="109" width="657" height="53" fill="rgba(255,0,0,0.33)" shape-rendering="crispEdges"/>
<line x1="637.2" y1="68" x2="653.8" y2="26.8" stroke="#178c2c" stroke-width="2" stroke-dasharray="5.5 2.28"/>
<polygon points="657.6,18.2 649,25.6 658.4,28.4" fill="#178c2c"/>
<line x1="633.5" y1="110.4" x2="654" y2="152.4" stroke="#ff1414" stroke-width="2.1" stroke-dasharray="7.4 2.43"/>
<polygon points="657.6,160.7 649.2,154.3 658.2,150" fill="#ff1414"/>
<defs><linearGradient id="og" gradientUnits="userSpaceOnUse" x1="647" y1="97" x2="664" y2="123"><stop offset="0" stop-color="#ff8040" stop-opacity="0.45"/><stop offset="0.5" stop-color="#ff7a38" stop-opacity="0.8"/><stop offset="1" stop-color="#ff8848" stop-opacity="0.6"/></linearGradient></defs>
<path d="M647.2 97.2 L650.6 98.8 L654.2 101.8 L658.6 107.6 L662.6 114.6 L665.8 123.6 L663.8 124 L659.4 120.2 L654.2 114 L649.6 106.2 Z" fill="url(#og)"/>
<ellipse cx="634.3" cy="433" rx="4.6" ry="22.3" fill="rgba(255,120,60,0.6)"/>
</svg>
</body></html>
